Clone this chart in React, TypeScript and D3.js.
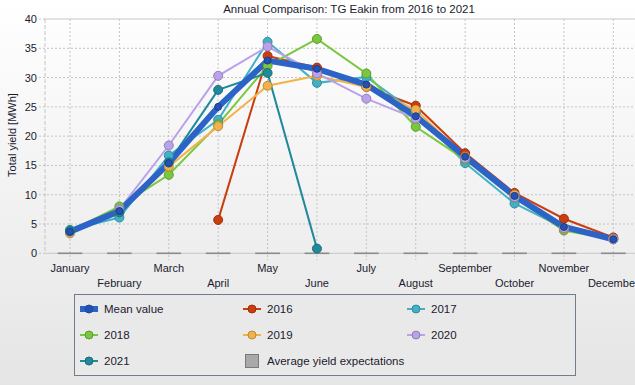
import { useMemo } from "react";
import * as d3 from "d3";

// month categories and yield values in MWh (null = no data)
const months = [
  "January", "February", "March", "April", "May", "June",
  "July", "August", "September", "October", "November", "December",
];

const meanValue = [3.7, 7.2, 15.4, 25.0, 32.9, 31.5, 28.8, 23.4, 16.5, 9.8, 4.5, 2.4];
const y2016 = [null, null, null, 5.7, 33.7, 31.7, 28.4, 25.2, 17.1, 10.3, 5.9, 2.7];
const y2017 = [4.0, 6.1, 16.7, 22.8, 36.1, 29.1, 30.1, 24.0, 15.4, 8.5, 4.3, 2.4];
const y2018 = [3.8, 8.0, 13.4, 22.0, 32.0, 36.6, 30.7, 21.6, 16.0, 9.5, 3.9, 2.4];
const y2019 = [3.4, 7.0, 14.8, 21.7, 28.6, 30.3, 28.4, 24.5, 16.5, 10.0, 4.2, 2.5];
const y2020 = [3.7, 7.5, 18.4, 30.3, 35.3, 30.7, 26.4, 23.0, 16.2, 9.6, 4.3, 2.4];
const y2021 = [3.8, 7.0, 15.5, 27.9, 30.8, 0.8, null, null, null, null, null, null];
const expectations = [0, 0, 0, 0, 0, 0, 0, 0, 0, 0, 0, 0];

const yTicks = [0, 5, 10, 15, 20, 25, 30, 35, 40];

const series = [
  { name: "2016", values: y2016, color: "#c93d0e" },
  { name: "2017", values: y2017, color: "#41b1c7" },
  { name: "2018", values: y2018, color: "#79c73d" },
  { name: "2019", values: y2019, color: "#f1b24a" },
  { name: "2020", values: y2020, color: "#b9a2ea" },
  { name: "2021", values: y2021, color: "#208a9c" },
];
const meanColor = "#2b63c6";

const W = 635;
const H = 385;
const font = "'Liberation Sans', Arial, sans-serif";
const textColor = "#1b1b2e";

export default function App() {
  const x = useMemo(
    () => d3.scaleBand<string>().domain(months).range([45.3, 638]).paddingInner(0),
    []
  );
  const y = useMemo(() => d3.scaleLinear().domain([0, 40]).range([253.3, 19]), []);
  const cx = (m: string) => (x(m) as number) + x.bandwidth() / 2;

  const line = d3
    .line<number | null>()
    .defined((d) => d != null)
    .x((_, i) => cx(months[i]))
    .y((d) => y(d as number));

  const legendItems = [
    { name: "Mean value", color: meanColor, mean: true },
    ...series,
  ];
  const colX = [80, 243, 407];
  const rowY = [309, 335, 361];

  return (
    <svg
      width={W}
      height={H}
      style={{ position: "absolute", left: 0, top: 0, fontFamily: font }}
    >
      <defs>
        <linearGradient id="bg" x1="0" y1="0" x2="0" y2="1">
          <stop offset="0" stopColor="#ffffff" />
          <stop offset="1" stopColor="#e5e5e5" />
        </linearGradient>
      </defs>
      <rect width={W} height={H} fill="url(#bg)" />

      {/* title */}
      <text x={349} y={13} fontSize={11.5} textAnchor="middle" fill={textColor}>
        Annual Comparison: TG Eakin from 2016 to 2021
      </text>

      {/* grid */}
      {yTicks.slice(1, -1).map((t) => (
        <line
          key={"h" + t}
          x1={39}
          x2={638}
          y1={y(t)}
          y2={y(t)}
          stroke="#c4c4c4"
          strokeDasharray="2,2"
        />
      ))}
      {months.map((m) => (
        <line
          key={"v" + m}
          x1={cx(m)}
          x2={cx(m)}
          y1={y(40)}
          y2={y(0) + 7}
          stroke="#c4c4c4"
          strokeDasharray="2,2"
        />
      ))}
      <line x1={45} x2={638} y1={y(40)} y2={y(40)} stroke="#c8c8c8" />
      <line x1={39} x2={45} y1={y(40)} y2={y(40)} stroke="#c4c4c4" strokeDasharray="2,2" />
      <line x1={45} x2={45} y1={y(40)} y2={y(0)} stroke="#c4c4c4" strokeDasharray="4,2" />
      <line x1={45} x2={638} y1={y(0)} y2={y(0)} stroke="#c8c8c8" />
      <line x1={39} x2={45} y1={y(0)} y2={y(0)} stroke="#c4c4c4" strokeDasharray="2,2" />

      {/* average yield expectation bars (zero height) */}
      {expectations.map((v, i) => (
        <rect
          key={"e" + i}
          x={cx(months[i]) - x.bandwidth() / 4}
          y={y(v) - 0.8}
          width={x.bandwidth() / 2}
          height={y(0) - y(v) + 1.6}
          fill="#8c8c8c"
        />
      ))}

      {/* y axis labels */}
      {yTicks.map((t) => (
        <text key={"yt" + t} x={37} y={y(t) + 4} fontSize={11} textAnchor="end" fill={textColor}>
          {t}
        </text>
      ))}
      <text
        transform={`translate(16,135) rotate(-90)`}
        fontSize={11}
        textAnchor="middle"
        fill={textColor}
      >
        Total yield [MWh]
      </text>

      {/* x axis labels, staggered on two rows */}
      {months.map((m, i) => (
        <text
          key={"xl" + m}
          x={cx(m)}
          y={i % 2 === 0 ? 272 : 287}
          fontSize={11}
          textAnchor="middle"
          fill={textColor}
        >
          {m}
        </text>
      ))}

      {/* lines */}
      {series.map((s) => (
        <path key={"l" + s.name} d={line(s.values) || ""} fill="none" stroke={s.color} strokeWidth={2} />
      ))}
      <path d={line(meanValue) || ""} fill="none" stroke={meanColor} strokeWidth={6} strokeLinejoin="round" />

      {/* markers */}
      {series.map((s) =>
        s.values.map((v, i) =>
          v == null ? null : (
            <circle
              key={s.name + i}
              cx={cx(months[i])}
              cy={y(v)}
              r={4.5}
              fill={s.color}
              stroke={d3.color(s.color)!.darker(0.7).formatHex()}
              strokeWidth={1}
            />
          )
        )
      )}
      {meanValue.map((v, i) => (
        <circle
          key={"m" + i}
          cx={cx(months[i])}
          cy={y(v)}
          r={3.5}
          fill="#2352b4"
          stroke="#1a3d8a"
          strokeWidth={1}
        />
      ))}

      {/* legend */}
      <rect x={74.5} y={294.5} width={501} height={81} fill="#e9e9e9" stroke="#707e8c" />
      {legendItems.map((it, k) => {
        const lx = colX[k % 3];
        const ly = rowY[Math.floor(k / 3)];
        const isMean = (it as any).mean;
        return (
          <g key={"lg" + it.name}>
            {isMean ? (
              <rect x={lx} y={ly - 3} width={18} height={6} fill={it.color} />
            ) : (
              <line x1={lx} x2={lx + 18} y1={ly} y2={ly} stroke={it.color} strokeWidth={2} />
            )}
            <circle
              cx={lx + 9}
              cy={ly}
              r={4}
              fill={isMean ? "#2352b4" : it.color}
              stroke={d3.color(it.color)!.darker(0.7).formatHex()}
            />
            <text x={lx + 24} y={ly + 4} fontSize={11.5} fill={textColor}>
              {it.name}
            </text>
          </g>
        );
      })}
      <rect x={245.5} y={354.5} width={13} height={13} fill="#a9a9a9" stroke="#7a7a7a" />
      <text x={267} y={365} fontSize={11.5} fill={textColor}>
        Average yield expectations
      </text>
    </svg>
  );
}
